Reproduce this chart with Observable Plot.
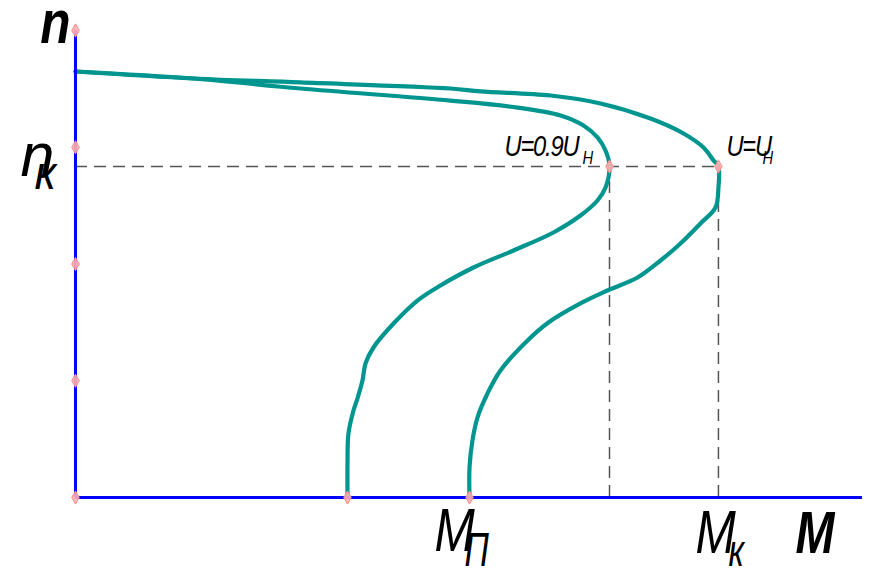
<!DOCTYPE html>
<html>
<head>
<meta charset="utf-8">
<script src="https://cdn.jsdelivr.net/npm/d3@7"></script>
<script src="https://cdn.jsdelivr.net/npm/@observablehq/plot@0.6"></script>
<style>
  html, body { margin: 0; padding: 0; background: #fff; }
  #chart svg { display: block; }
</style>
</head>
<body>
<div id="chart"></div>
<script>
// Mechanical characteristics n(M) of an induction motor at two supply voltages.
// Units are relative: one unit equals one speed division on the n axis.

const curveNames = ["U=Uн", "U=0.9Uн"];

// U = Uн
const torqueRated = [0, 1.011, 1.927, 3.212, 3.469, 4.069, 4.497, 4.925, 5.208, 5.379, 5.465, 5.507,
  5.507, 5.482, 5.353, 5.182, 5.011, 4.814, 4.557, 4.325, 4.051, 3.872, 3.640, 3.529, 3.443, 3.400, 3.375, 3.375];
const speedRated = [3.649, 3.589, 3.555, 3.503, 3.478, 3.443, 3.375, 3.246, 3.118, 2.998, 2.887, 2.835,
  2.655, 2.484, 2.347, 2.176, 2.030, 1.884, 1.773, 1.662, 1.499, 1.345, 1.088, 0.891, 0.685, 0.488, 0.257, 0];

// U = 0.9 Uн
const torqueReduced = [0, 1.011, 1.927, 3.212, 3.786, 4.154, 4.351, 4.471, 4.540, 4.574, 4.540, 4.471,
  4.325, 4.094, 3.752, 3.409, 3.126, 2.929, 2.724, 2.552, 2.484, 2.458, 2.415, 2.381, 2.338, 2.330, 2.330];
const speedReduced = [3.649, 3.589, 3.503, 3.400, 3.340, 3.272, 3.186, 3.084, 2.972, 2.835, 2.655, 2.544,
  2.415, 2.270, 2.116, 1.970, 1.816, 1.687, 1.490, 1.285, 1.148, 1.002, 0.848, 0.745, 0.548, 0.317, 0];

// Critical speed, critical torques and starting torques [U=Uн, U=0.9Uн]
const speedCritical = 2.835;
const torqueCritical = [5.507, 4.574];
const torqueStart = [3.375, 2.330];

// Speed axis divisions
const speedTicks = [0, 1, 2, 3, 4];

const xMax = 6.741;
const yMax = 4;

const curves = [
  ...torqueRated.map((m, i) => ({curve: curveNames[0], M: m, n: speedRated[i]})),
  ...torqueReduced.map((m, i) => ({curve: curveNames[1], M: m, n: speedReduced[i]}))
];

const markers = [
  ...speedTicks.map(n => ({M: 0, n})),
  ...torqueStart.map(m => ({M: m, n: 0})),
  ...torqueCritical.map(m => ({M: m, n: speedCritical}))
];

const FONT = '"Liberation Sans", Arial, sans-serif';
const TEAL = "#00968f";
const BLUE = "#0000ff";
const PINK = "#ff8a8a";

const italic = {fontStyle: "italic", fill: "black", lineAnchor: "bottom", fontFamily: FONT};

// Horizontal squeeze for labels set in a condensed face, keyed by "text|fontSize"
const condensed = {
  "n|62": 0.8,
  "M|60": 0.78,
  "M|62": 0.78,
  "П|48": 0.7,
  "к|44": 0.75,
  "U=0.9U|29": 0.82,
  "U=U|29": 0.82,
  "Н|18": 0.82
};

const chart = Plot.plot({
  width: 870,
  height: 569,
  marginLeft: 75,
  marginRight: 8,
  marginTop: 30,
  marginBottom: 72,
  x: {domain: [0, xMax], axis: null},
  y: {domain: [0, yMax], axis: null},
  style: {fontFamily: FONT, background: "white", overflow: "visible"},
  marks: [
    // dashed guides at the critical point
    Plot.ruleY([speedCritical], {x1: 0, x2: torqueCritical[0], stroke: "#555", strokeWidth: 1.5, strokeDasharray: "12,7"}),
    Plot.ruleX(torqueCritical, {y1: 0, y2: speedCritical, stroke: "#555", strokeWidth: 1.5, strokeDasharray: "12,7"}),

    // characteristics
    Plot.line(curves, {x: "M", y: "n", z: "curve", stroke: TEAL, strokeWidth: 4.2, curve: "catmull-rom"}),

    // axes
    Plot.ruleX([0], {stroke: BLUE, strokeWidth: 3}),
    Plot.ruleY([0], {stroke: BLUE, strokeWidth: 3}),

    // point markers
    Plot.dot(markers, {x: "M", y: "n", symbol: "diamond", r: 4, fill: "#ffb0b0", fillOpacity: 0.9, stroke: PINK, strokeWidth: 1}),

    // axis titles
    Plot.text(["n"], {...italic, x: 0, y: yMax, fontSize: 62, fontWeight: "bold", textAnchor: "end", dx: -5, dy: 12}),
    Plot.text(["M"], {...italic, x: xMax, y: 0, fontSize: 60, fontWeight: "bold", textAnchor: "start", dx: -67, dy: 55}),

    // n_к
    Plot.text(["n"], {...italic, x: 0, y: speedCritical, fontSize: 61, textAnchor: "start", dx: -55, dy: 9}),
    Plot.text(["к"], {...italic, x: 0, y: speedCritical, fontSize: 46, textAnchor: "start", dx: -41, dy: 22}),

    // M_П under the starting torque at rated voltage
    Plot.text(["M"], {...italic, x: torqueStart[0], y: 0, fontSize: 62, textAnchor: "start", dx: -35, dy: 53}),
    Plot.text(["П"], {...italic, x: torqueStart[0], y: 0, fontSize: 48, textAnchor: "start", dx: -5, dy: 68}),

    // M_к under the critical torque at rated voltage
    Plot.text(["M"], {...italic, x: torqueCritical[0], y: 0, fontSize: 62, textAnchor: "start", dx: -23, dy: 55}),
    Plot.text(["к"], {...italic, x: torqueCritical[0], y: 0, fontSize: 44, textAnchor: "start", dx: 10, dy: 68}),

    // voltage labels
    Plot.text(["U=0.9U"], {...italic, x: torqueCritical[1], y: speedCritical, fontSize: 29, textAnchor: "start", dx: -105, dy: -11}),
    Plot.text(["Н"], {...italic, x: torqueCritical[1], y: speedCritical, fontSize: 18, textAnchor: "start", dx: -27, dy: -3}),
    Plot.text(["U=U"], {...italic, x: torqueCritical[0], y: speedCritical, fontSize: 29, textAnchor: "start", dx: 8, dy: -11}),
    Plot.text(["Н"], {...italic, x: torqueCritical[0], y: speedCritical, fontSize: 18, textAnchor: "start", dx: 44, dy: -3})
  ]
});

// Apply the horizontal squeeze around each label's anchor point
d3.select(chart).selectAll("text").each(function () {
  const size = this.parentNode.getAttribute("font-size");
  const k = condensed[`${this.textContent}|${size}`];
  if (k) {
    const t = this.getAttribute("transform") || "";
    this.setAttribute("transform", `${t} scale(${k},1)`);
    if (this.textContent.startsWith("U=")) this.style.letterSpacing = "-1.5px";
  }
});

document.getElementById("chart").appendChild(chart);
</script>
</body>
</html>
